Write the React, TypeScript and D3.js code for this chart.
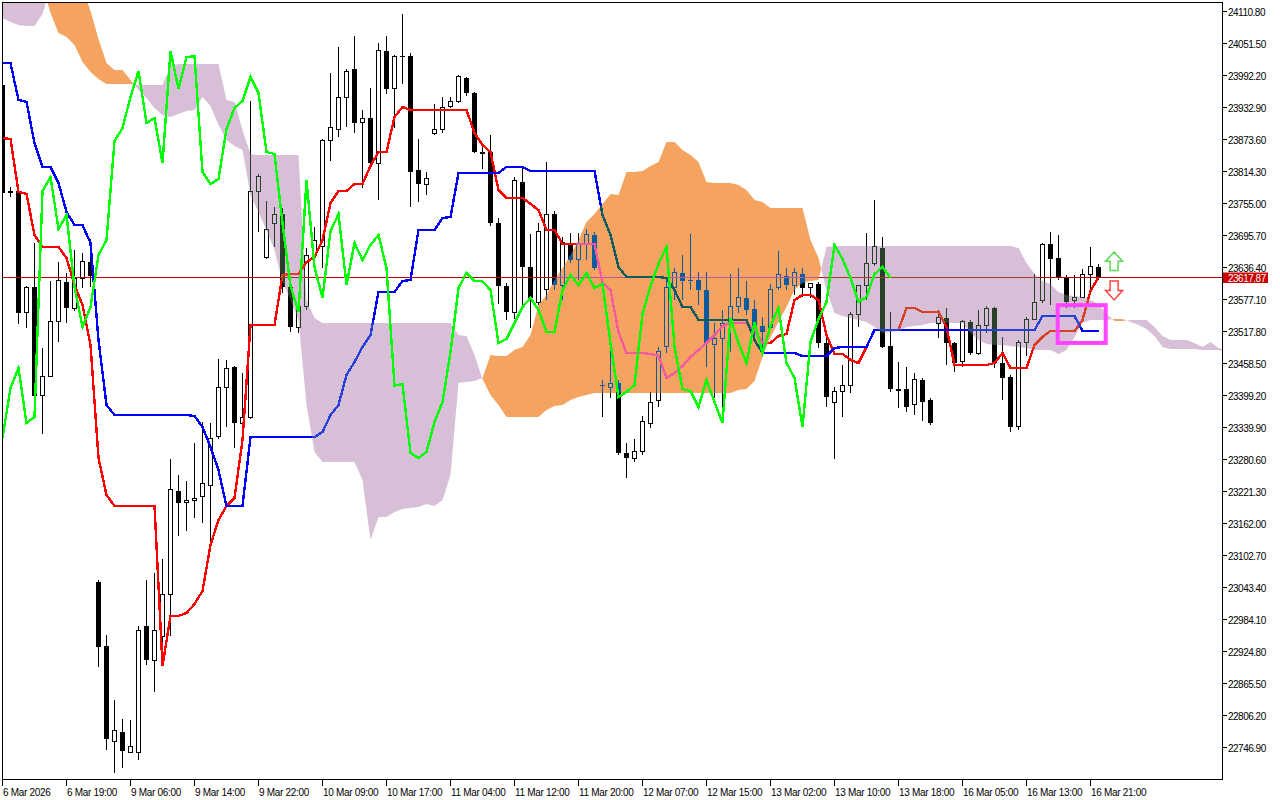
import React, { useEffect, useRef } from "react";
import * as d3 from "d3";

// ---------- DATA (H1 bars, index 0 = 6 Mar 2026) ----------
const open = [23975.0,23778.5,23778.5,23554.3,23600.6,23398.7,23433.9,23537.6,23609.9,23559.9,23615.5,23647.0,23054.0,22935.4,22757.5,22776.0,22737.1,22737.1,22972.4,22909.4,22952.1,23031.7,23222.6,23202.2,23205.9,23211.5,23231.9,23322.7,23413.5,23452.4,23346.8,23359.7,23776.7,23656.2,23717.4,23735.9,23600.6,23526.5,23563.6,23659.9,23674.8,23871.2,23893.4,23952.7,24004.6,23906.4,23913.8,23830.4,24038.0,23967.6,24028.7,24028.7,23817.5,23791.5,23884.2,23893.4,23934.2,23945.3,23987.9,23960.1,23850.8,23850.8,23719.2,23602.5,23552.5,23795.2,23637.7,23572.8,23595.1,23735.9,23604.3,23682.2,23650.7,23678.5,23697.0,23419.0,23415.3,23422.7,23293.0,23281.9,23294.9,23348.6,23391.2,23489.5,23598.8,23626.6,23611.8,23613.6,23595.1,23493.2,23506.1,23535.8,23563.6,23580.3,23559.9,23528.4,23526.5,23600.6,23621.0,23604.3,23624.7,23598.8,23606.2,23496.9,23385.7,23406.1,23419.0,23550.6,23602.5,23643.3,23672.9,23491.3,23411.6,23411.6,23382.0,23428.3,23391.2,23532.1,23543.2,23496.9,23461.7,23535.8,23478.3,23528.4,23561.7,23459.8,23433.9,23341.2,23498.7,23541.3,23574.7,23680.3,23654.4,23619.2,23574.7,23582.1,23622.9,23637.7];
const high = [23984.2,23786.0,23791.5,23602.5,23682.2,23487.6,23611.8,23647.0,23626.6,23669.2,23663.6,23689.6,23057.7,22955.8,22835.3,22800.1,22798.3,22972.4,23057.7,23070.7,23096.6,23281.9,23252.3,23241.1,23311.6,23350.5,23348.6,23467.2,23465.4,23454.3,23441.3,23945.3,23810.0,23760.0,23748.9,23747.0,23604.3,23576.6,23672.9,23711.8,23874.9,23997.2,24045.4,24004.6,24065.8,23928.6,23969.4,24052.8,24065.8,24030.6,24106.5,24034.3,23874.9,23813.8,23939.8,23952.7,23952.7,23993.5,23989.8,23962.0,23867.5,23882.3,23728.5,23608.1,23804.5,23821.2,23698.9,23719.2,23832.3,23741.5,23693.3,23700.7,23700.7,23708.1,23702.6,23428.3,23483.9,23428.3,23311.6,23319.0,23361.6,23406.1,23489.5,23613.6,23635.9,23659.9,23698.9,23628.4,23628.4,23533.9,23558.0,23624.7,23635.9,23611.8,23576.6,23545.1,23606.2,23667.4,23635.9,23635.9,23635.9,23608.1,23609.9,23506.1,23415.3,23456.1,23554.3,23604.3,23700.7,23761.9,23693.3,23554.3,23461.7,23452.4,23441.3,23432.0,23395.0,23558.0,23561.7,23498.7,23539.5,23539.5,23558.0,23565.4,23563.6,23508.0,23437.6,23502.4,23545.1,23624.7,23682.2,23702.6,23697.0,23622.9,23622.9,23634.0,23674.8,23643.3];
const low = [23767.4,23767.4,23532.1,23524.7,23395.0,23328.2,23498.7,23498.7,23533.9,23556.2,23598.8,23600.6,22896.5,22742.7,22700.0,22709.3,22737.1,22724.1,22900.2,22850.1,22935.4,22953.9,23139.2,23148.5,23172.6,23163.3,23117.0,23319.0,23341.2,23302.3,23344.9,23356.0,23702.6,23652.5,23674.8,23589.5,23517.3,23515.4,23558.0,23654.4,23635.9,23834.1,23878.6,23897.1,23886.0,23784.1,23826.7,23761.9,23958.3,23895.3,23976.8,23748.9,23758.2,23771.1,23883.0,23886.0,23932.4,23941.6,23954.6,23849.0,23819.3,23713.7,23569.1,23539.5,23541.3,23561.7,23524.7,23567.3,23576.6,23595.1,23576.6,23645.1,23613.6,23650.7,23632.1,23359.7,23395.0,23289.3,23246.7,23276.4,23289.3,23339.4,23378.3,23478.3,23576.6,23576.6,23595.1,23567.3,23452.4,23395.0,23372.7,23480.2,23552.5,23548.8,23502.4,23478.3,23521.0,23595.1,23595.1,23585.8,23582.1,23580.3,23487.6,23378.3,23281.9,23359.7,23404.2,23526.5,23576.6,23639.6,23487.6,23406.1,23376.4,23369.0,23363.4,23352.3,23344.9,23506.1,23456.1,23443.1,23452.4,23474.6,23474.6,23515.4,23450.5,23391.2,23331.9,23335.7,23472.8,23539.5,23571.0,23567.3,23613.6,23561.7,23561.7,23580.3,23595.1,23613.6];
const close = [23774.8,23774.8,23552.5,23598.8,23398.7,23433.9,23537.6,23611.8,23561.7,23615.5,23647.0,23621.0,22933.5,22763.0,22779.7,22740.8,22748.2,22965.0,22909.4,22965.0,23031.7,23224.5,23200.4,23205.9,23209.6,23237.4,23320.8,23413.5,23450.5,23348.6,23359.7,23778.5,23804.5,23708.1,23734.1,23600.6,23526.5,23563.6,23659.9,23687.7,23871.2,23895.3,23952.7,24000.9,23904.6,23913.8,23830.4,24038.0,23967.6,24026.9,24028.0,23813.8,23791.5,23800.8,23893.4,23932.4,23945.3,23989.8,23960.1,23850.8,23847.1,23719.2,23602.5,23554.3,23798.9,23637.7,23580.3,23704.4,23735.9,23604.3,23682.2,23650.7,23678.5,23697.0,23635.9,23418.0,23420.9,23293.0,23283.8,23294.9,23350.5,23387.5,23480.2,23598.8,23626.6,23611.8,23611.0,23595.1,23496.9,23504.3,23533.9,23563.6,23580.3,23558.0,23517.3,23517.3,23595.1,23622.9,23604.3,23626.6,23598.8,23606.2,23496.9,23396.8,23406.1,23419.0,23550.6,23602.5,23643.3,23674.8,23489.5,23411.6,23407.9,23378.3,23428.3,23387.5,23348.6,23543.2,23496.9,23459.8,23535.8,23478.3,23528.4,23561.7,23459.8,23432.0,23341.2,23498.7,23541.3,23572.8,23678.5,23652.5,23617.3,23572.8,23582.1,23624.7,23637.7,23617.87];

const tenkan = [23876.8,23874.9,23776.7,23773.0,23697.0,23674.8,23674.8,23674.8,23654.4,23604.3,23567.3,23493.2,23283.8,23215.2,23194.8,23194.8,23194.8,23194.8,23194.8,23194.8,22898.3,22991.0,22991.0,22996.5,23013.2,23037.3,23122.5,23168.9,23194.8,23209.6,23317.1,23530.2,23530.2,23530.2,23530.2,23622.9,23624.7,23624.7,23647.0,23656.2,23687.7,23756.3,23778.5,23778.5,23791.5,23791.5,23824.9,23850.8,23850.8,23915.7,23934.2,23928.6,23928.6,23928.6,23928.6,23928.6,23928.6,23928.6,23928.6,23886.0,23863.8,23850.8,23780.4,23765.6,23765.6,23765.6,23754.5,23743.3,23706.3,23706.3,23680.3,23680.3,23680.3,23680.3,23680.3,23608.1,23595.1,23517.3,23478.3,23478.3,23478.3,23476.5,23472.8,23432.0,23441.3,23454.3,23470.9,23483.9,23496.9,23511.7,23528.4,23533.9,23533.9,23533.9,23521.0,23496.9,23496.9,23509.9,23513.5,23576.6,23585.8,23585.8,23576.6,23511.7,23476.5,23476.5,23465.4,23459.8,23489.5,23521.0,23521.0,23521.0,23521.0,23561.7,23561.7,23554.3,23554.3,23554.3,23526.5,23456.1,23456.1,23456.1,23456.1,23456.1,23459.8,23478.3,23450.5,23450.5,23450.5,23493.2,23508.0,23519.1,23519.1,23519.1,23519.1,23539.5,23593.2,23619.2];
const kijun = [24015.7,24015.7,23947.2,23943.5,23867.5,23823.0,23823.0,23793.4,23739.6,23715.5,23715.5,23682.2,23502.4,23382.0,23363.4,23363.4,23363.4,23363.4,23363.4,23363.4,23363.4,23363.4,23363.4,23363.4,23361.6,23341.2,23304.1,23261.5,23194.8,23194.8,23194.8,23322.7,23322.7,23322.7,23322.7,23322.7,23322.7,23322.7,23322.7,23322.7,23331.9,23363.4,23382.0,23437.6,23461.7,23489.5,23511.7,23591.4,23591.4,23591.4,23611.8,23613.6,23706.3,23706.3,23706.3,23728.5,23730.3,23811.9,23811.9,23811.9,23811.9,23811.9,23811.9,23823.0,23823.0,23823.0,23815.7,23815.7,23815.7,23815.7,23815.7,23815.7,23815.7,23815.7,23815.7,23734.1,23697.0,23637.7,23619.2,23619.2,23619.2,23619.2,23619.2,23617.3,23595.1,23563.6,23563.6,23539.5,23539.5,23539.5,23539.5,23539.5,23539.5,23539.5,23502.4,23478.3,23478.3,23478.3,23478.3,23478.3,23472.8,23472.8,23472.8,23472.8,23487.6,23489.5,23489.5,23489.5,23489.5,23521.0,23521.0,23521.0,23521.0,23521.0,23521.0,23521.0,23521.0,23521.0,23521.0,23521.0,23521.0,23521.0,23521.0,23521.0,23521.0,23521.0,23521.0,23521.0,23521.0,23521.0,23546.9,23546.9,23546.9,23546.9,23546.9,23519.1,23519.1,23519.1];
// Chikou span: closes plotted 26 bars back (bars 0..111)
const chikou = [23320.8,23413.5,23450.5,23348.6,23359.7,23778.5,23804.5,23708.1,23734.1,23600.6,23526.5,23563.6,23659.9,23687.7,23871.2,23895.3,23952.7,24000.9,23904.6,23913.8,23830.4,24038.0,23967.6,24026.9,24028.0,23813.8,23791.5,23800.8,23893.4,23932.4,23945.3,23989.8,23960.1,23850.8,23847.1,23719.2,23602.5,23554.3,23798.9,23637.7,23580.3,23704.4,23735.9,23604.3,23682.2,23650.7,23678.5,23697.0,23635.9,23418.0,23420.9,23293.0,23283.8,23294.9,23350.5,23387.5,23480.2,23598.8,23626.6,23611.8,23611.0,23595.1,23496.9,23504.3,23533.9,23563.6,23580.3,23558.0,23517.3,23517.3,23595.1,23622.9,23604.3,23626.6,23598.8,23606.2,23496.9,23396.8,23406.1,23419.0,23550.6,23602.5,23643.3,23674.8,23489.5,23411.6,23407.9,23378.3,23428.3,23387.5,23348.6,23543.2,23496.9,23459.8,23535.8,23478.3,23528.4,23561.7,23459.8,23432.0,23341.2,23498.7,23541.3,23572.8,23678.5,23652.5,23617.3,23572.8,23582.1,23624.7,23637.7,23617.87];
// Senkou spans, plotted 26 bars ahead (bars 0..153)
const spanA = [24099.1,24091.7,24086.2,24084.3,24084.3,24106.5,24154.7,24154.7,24154.7,24154.7,24154.7,24112.1,24060.2,24015.7,24002.8,24002.8,23984.2,23965.7,23950.9,23932.4,23919.4,23915.7,23921.2,23926.8,23928.6,23952.7,23936.1,23900.8,23873.1,23861.9,23854.5,23771.1,23739.6,23706.3,23669.2,23609.9,23576.6,23539.5,23382.0,23294.9,23276.4,23276.4,23276.4,23276.4,23276.4,23243.0,23131.8,23174.4,23174.4,23183.7,23189.3,23191.1,23193.0,23198.5,23194.8,23205.9,23252.3,23422.7,23424.6,23426.5,23432.0,23474.6,23472.8,23472.8,23483.9,23489.5,23511.7,23567.3,23585.8,23613.6,23635.9,23659.9,23687.7,23721.1,23735.9,23754.5,23773.0,23771.1,23813.8,23813.8,23815.7,23824.9,23832.3,23869.3,23869.3,23854.5,23845.3,23832.3,23795.2,23793.4,23793.4,23793.4,23789.7,23780.4,23761.9,23758.2,23747.0,23747.0,23747.0,23747.0,23747.0,23687.7,23654.4,23595.1,23552.5,23546.9,23543.2,23539.5,23535.8,23526.5,23515.4,23517.3,23519.1,23526.5,23528.4,23530.2,23533.9,23533.9,23533.9,23533.9,23533.9,23515.4,23502.4,23495.0,23493.2,23493.2,23491.3,23489.5,23487.6,23483.9,23483.9,23483.9,23476.5,23483.9,23508.0,23533.9,23539.5,23539.5,23539.5,23541.3,23541.3,23535.8,23530.2,23522.8,23509.9,23489.5,23485.8,23485.8,23485.8,23485.8,23483.9,23483.9,23483.9,23480.2];
const spanB = [24160.3,24160.3,24160.3,24160.3,24160.3,24160.3,24108.4,24071.3,24063.9,24049.1,24017.6,23999.1,23986.1,23976.8,23976.8,23976.8,23976.8,23975.0,23975.0,23975.0,23975.0,24010.2,24013.9,24013.9,24013.9,24013.9,24013.9,24013.9,23947.2,23943.5,23891.6,23847.1,23845.3,23845.3,23845.3,23845.3,23845.3,23845.3,23576.6,23543.2,23533.9,23533.9,23533.9,23533.9,23533.9,23533.9,23533.9,23533.9,23533.9,23533.9,23533.9,23533.9,23533.9,23533.9,23533.9,23533.9,23533.9,23511.7,23509.9,23474.6,23430.2,23400.5,23382.0,23359.7,23359.7,23359.7,23359.7,23359.7,23372.7,23380.1,23382.0,23391.2,23396.8,23400.5,23404.2,23404.2,23404.2,23404.2,23404.2,23404.2,23404.2,23404.2,23404.2,23404.2,23404.2,23404.2,23404.2,23404.2,23404.2,23404.2,23404.2,23404.2,23409.8,23411.6,23426.5,23470.9,23508.0,23535.8,23563.6,23595.1,23608.1,23611.8,23613.6,23674.8,23676.6,23676.6,23676.6,23676.6,23676.6,23676.6,23676.6,23676.6,23676.6,23676.6,23676.6,23676.6,23676.6,23676.6,23676.6,23676.6,23676.6,23676.6,23676.6,23676.6,23676.6,23676.6,23676.6,23672.9,23645.1,23624.7,23611.8,23606.2,23591.4,23585.8,23584.0,23582.1,23576.6,23569.1,23550.6,23537.6,23537.6,23539.5,23539.5,23539.5,23526.5,23509.9,23502.4,23502.4,23502.4,23496.9,23489.5,23498.7,23487.6,23482.0];

const priceTicks = [24110.8,24051.5,23992.2,23932.9,23873.6,23814.3,23755.0,23695.7,23636.4,23577.1,23517.8,23458.5,23399.2,23339.9,23280.6,23221.3,23162.0,23102.7,23043.4,22984.1,22924.8,22865.5,22806.2,22746.9];
const timeLabels = ["6 Mar 2026","6 Mar 19:00","9 Mar 06:00","9 Mar 14:00","9 Mar 22:00","10 Mar 09:00","10 Mar 17:00","11 Mar 04:00","11 Mar 12:00","11 Mar 20:00","12 Mar 07:00","12 Mar 15:00","13 Mar 02:00","13 Mar 10:00","13 Mar 18:00","16 Mar 05:00","16 Mar 13:00","16 Mar 21:00"];
const LABEL_EVERY = 8;
const bidPrice = 23617.87;
// annotation (bar index / price)
const boxAnno = { i0: 131.9, i1: 137.9, pTop: 23567, pBot: 23497 };
const upArrow = { i: 138.95, pTop: 23665.5, pBot: 23631.2 };
const downArrow = { i: 138.95, pTop: 23611.8, pBot: 23576.6 };

const FONT = "'Liberation Sans', Arial, sans-serif";
const LINE_W = 2.4;

export default function App() {
  const ref = useRef<SVGSVGElement | null>(null);

  useEffect(() => {
    const svg = d3.select(ref.current);
    svg.selectAll("*").remove();

    const left = 2.5, top = 2.5, right = 1222.5, bottom = 779.5;
    const x = d3.scaleLinear().domain([0, 1]).range([2.5, 10.5]);
    const y = d3.scaleLinear().domain([22746.9, 24110.8]).range([747.7, 11.7]);

    svg.append("rect").attr("width", 1280).attr("height", 800).attr("fill", "#fff");

    const defs = svg.append("defs");
    defs.append("clipPath").attr("id", "plotClip")
      .append("rect").attr("x", left + 0.5).attr("y", top + 0.5)
      .attr("width", right - left - 1).attr("height", bottom - top - 1);

    const plot = svg.append("g").attr("clip-path", "url(#plotClip)");
    plot.append("rect").attr("x", 0).attr("y", 0).attr("width", 1280).attr("height", 800).attr("fill", "#fff");

    // candles
    const cg = plot.append("g").attr("shape-rendering", "crispEdges");
    close.forEach((c, i) => {
      const cx = x(i);
      cg.append("line").attr("x1", cx).attr("x2", cx)
        .attr("y1", y(high[i])).attr("y2", y(low[i])).attr("stroke", "#000");
      const yo = y(open[i]), yc = y(c);
      const t = Math.min(yo, yc), h = Math.abs(yo - yc);
      if (c > open[i]) {
        cg.append("rect").attr("x", cx - 2).attr("y", t).attr("width", 4).attr("height", Math.max(h, 1))
          .attr("fill", "#fff").attr("stroke", "#000");
      } else if (h >= 1) {
        cg.append("rect").attr("x", cx - 2.5).attr("y", t).attr("width", 5).attr("height", h).attr("fill", "#000");
      } else {
        cg.append("line").attr("x1", cx - 2.5).attr("x2", cx + 2.5).attr("y1", t).attr("y2", t).attr("stroke", "#000");
      }
    });

    // bid line
    const by = Math.floor(y(bidPrice)) + 0.5;
    plot.append("line").attr("x1", 0).attr("x2", 1280).attr("y1", by).attr("y2", by)
      .attr("stroke", "#C00000").attr("stroke-width", 1).attr("shape-rendering", "crispEdges");

    const line = d3.line<number>().x((_, i) => x(i)).y((v) => y(v));
    plot.append("path").attr("d", line(tenkan)).attr("fill", "none").attr("stroke", "#FF0000")
      .attr("stroke-width", LINE_W).attr("shape-rendering", "crispEdges");
    plot.append("path").attr("d", line(kijun)).attr("fill", "none").attr("stroke", "#0000FF")
      .attr("stroke-width", LINE_W).attr("shape-rendering", "crispEdges");

    // cloud (drawn with a difference blend, like the XOR histogram of the terminal)
    let orange = "", thistle = "";
    for (let i = 0; i < spanA.length - 1; i++) {
      const x0 = x(i), x1 = x(i + 1);
      const a0 = y(spanA[i]), b0 = y(spanB[i]), a1 = y(spanA[i + 1]), b1 = y(spanB[i + 1]);
      const d0 = spanA[i] - spanB[i], d1 = spanA[i + 1] - spanB[i + 1];
      if (d0 * d1 >= 0) {
        const p = `M${x0},${a0}L${x1},${a1}L${x1},${b1}L${x0},${b0}Z`;
        if (d0 + d1 > 0) orange += p; else thistle += p;
      } else {
        const tt = d0 / (d0 - d1);
        const xc = x0 + tt * (x1 - x0), yc = a0 + tt * (a1 - a0);
        const p1 = `M${x0},${a0}L${xc},${yc}L${x0},${b0}Z`;
        const p2 = `M${xc},${yc}L${x1},${a1}L${x1},${b1}Z`;
        if (d0 > 0) { orange += p1; thistle += p2; } else { thistle += p1; orange += p2; }
      }
    }
    plot.append("path").attr("d", orange).attr("fill", "rgb(11,91,159)").style("mix-blend-mode", "difference");
    plot.append("path").attr("d", thistle).attr("fill", "rgb(39,64,39)").style("mix-blend-mode", "difference");

    plot.append("path").attr("d", line(chikou)).attr("fill", "none").attr("stroke", "#00FF00")
      .attr("stroke-width", LINE_W).attr("shape-rendering", "crispEdges");

    // annotations
    plot.append("rect")
      .attr("x", x(boxAnno.i0)).attr("y", y(boxAnno.pTop))
      .attr("width", x(boxAnno.i1) - x(boxAnno.i0)).attr("height", y(boxAnno.pBot) - y(boxAnno.pTop))
      .attr("fill", "none").attr("stroke", "#FF44FF").attr("stroke-width", 4);

    const arrowPath = (a: { i: number; pTop: number; pBot: number }, up: boolean) => {
      const cx = x(a.i), yt = y(a.pTop), yb = y(a.pBot);
      const hw = 8.5, sw = 4, headLen = (yb - yt) * 0.5;
      if (up) {
        const yh = yt + headLen;
        return `M${cx},${yt}L${cx + hw},${yh}L${cx + sw},${yh}L${cx + sw},${yb}L${cx - sw},${yb}L${cx - sw},${yh}L${cx - hw},${yh}Z`;
      }
      const yh = yb - headLen;
      return `M${cx - sw},${yt}L${cx + sw},${yt}L${cx + sw},${yh}L${cx + hw},${yh}L${cx},${yb}L${cx - hw},${yh}L${cx - sw},${yh}Z`;
    };
    plot.append("path").attr("d", arrowPath(upArrow, true)).attr("fill", "#fff").attr("stroke", "#5ED85A").attr("stroke-width", 1.5);
    plot.append("path").attr("d", arrowPath(downArrow, false)).attr("fill", "#fff").attr("stroke", "#FF4040").attr("stroke-width", 1.5);

    // frame
    const fg = svg.append("g").attr("shape-rendering", "crispEdges");
    fg.append("rect").attr("x", left).attr("y", top).attr("width", right - left).attr("height", bottom - top)
      .attr("fill", "none").attr("stroke", "#000");

    // price axis
    priceTicks.forEach((p) => {
      const ty = Math.round(y(p)) - 0.5;
      fg.append("line").attr("x1", right).attr("x2", right + 4).attr("y1", ty).attr("y2", ty).attr("stroke", "#000");
      svg.append("text").attr("x", right + 5.5).attr("y", ty + 4)
        .attr("font-family", FONT).attr("font-size", 10).attr("letter-spacing", -0.5)
        .attr("fill", "#000").text(p.toFixed(2));
    });

    // bid label
    svg.append("rect").attr("x", 1223).attr("y", by - 5).attr("width", 45).attr("height", 10.5).attr("fill", "#CC0000");
    svg.append("text").attr("x", right + 5.5).attr("y", by + 4)
      .attr("font-family", FONT).attr("font-size", 10).attr("letter-spacing", -0.5)
      .attr("fill", "#fff").text(bidPrice.toFixed(2));

    // time axis
    timeLabels.forEach((lab, k) => {
      const tx = x(k * LABEL_EVERY);
      fg.append("line").attr("x1", tx).attr("x2", tx).attr("y1", bottom).attr("y2", bottom + 6).attr("stroke", "#000");
      svg.append("text").attr("x", tx + 0.5).attr("y", 796)
        .attr("font-family", FONT).attr("font-size", 10).attr("letter-spacing", -0.3)
        .attr("fill", "#000").text(lab);
    });
  }, []);

  return (
    <svg ref={ref} width={1280} height={800}
      style={{ position: "absolute", left: 0, top: 0, display: "block" }} />
  );
}
